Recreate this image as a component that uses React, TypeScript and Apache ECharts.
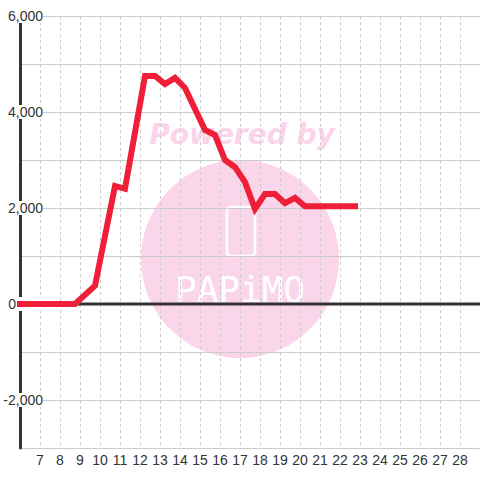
import React, { useEffect, useRef } from 'react';
import * as echarts from 'echarts';

// Data
const xValues = [6, 8.75, 9.75, 10.75, 11.25, 12.25, 12.75, 13.25, 13.75, 14.25, 15.25, 15.75, 16.25, 16.75, 17.25, 17.75, 18.25, 18.75, 19.25, 19.75, 20.25, 22.75];
const yValues = [0, 0, 380, 2460, 2400, 4750, 4750, 4580, 4710, 4500, 3625, 3520, 3000, 2850, 2540, 1980, 2290, 2290, 2100, 2210, 2035, 2035];
const xMin = 6;
const xMax = 29;
const xLabelFirst = 7;
const xLabelLast = 28;
const yMin = -3000;
const yMax = 6000;
const yLabelStep = 2000;

export default function App() {
  const ref = useRef<HTMLDivElement>(null);
  useEffect(() => {
    if (!ref.current) return;
    const chart = echarts.init(ref.current, null, { renderer: 'svg' });
    const font = '"Liberation Sans", Arial, sans-serif';
    chart.setOption({
      animation: false,
      backgroundColor: '#ffffff',
      textStyle: { fontFamily: font },
      grid: { left: 20, right: 0, top: 16, bottom: 32, containLabel: false, outerBoundsMode: 'none' },
      xAxis: {
        type: 'value',
        min: xMin,
        max: xMax,
        interval: 1,
        axisLine: { show: false, onZero: false },
        axisTick: { show: false },
        axisLabel: {
          color: '#333',
          fontSize: 14,
          margin: 5,
          fontFamily: font,
          formatter: (v: number) => (v >= xLabelFirst && v <= xLabelLast ? String(v) : ''),
        },
        splitLine: { show: true, lineStyle: { color: '#cccccc', width: 1, type: [3, 3] } },
      },
      yAxis: {
        type: 'value',
        min: yMin,
        max: yMax,
        interval: 1000,
        axisLine: { show: true, lineStyle: { color: '#333', width: 3 } },
        axisTick: { show: false },
        axisLabel: {
          color: '#333',
          fontSize: 14,
          lineHeight: 14,
          fontFamily: font,
          margin: -23,
          backgroundColor: '#ffffff',
          formatter: (v: number) => {
            if (v % yLabelStep !== 0) return '';
            if (v === 0) return '{z|0}';
            return v.toLocaleString('en-US');
          },
          rich: { z: { padding: [0, 27, 0, 0], fontSize: 14, color: '#333', fontFamily: font } },
        },
        splitLine: { show: true, lineStyle: { color: '#cccccc', width: 1 } },
      },
      graphic: [
        { type: 'circle', z: -10, silent: true, shape: { cx: 240, cy: 259, r: 99 }, style: { fill: '#fbd6eb' } },
        {
          type: 'text', z: -10, silent: true, x: 242, y: 134,
          style: { text: 'Powered by', fill: '#fbd3ea', font: 'italic bold 28px "DejaVu Sans", sans-serif', align: 'center', verticalAlign: 'middle' },
        },
        {
          type: 'rect', z: -9, silent: true, shape: { x: 227, y: 207, width: 28, height: 49, r: 4 },
          style: { fill: 'none', stroke: '#ffffff', lineWidth: 2.5 },
        },
        {
          type: 'text', z: -9, silent: true, x: 240, y: 289,
          style: { text: 'PAPiMO', fill: '#ffffff', font: '36px "DejaVu Sans Mono", monospace', align: 'center', verticalAlign: 'middle' },
        },
      ],
      series: [
        {
          type: 'line',
          z: 1,
          silent: true,
          showSymbol: false,
          data: [[xMin, 0], [xMax, 0]],
          lineStyle: { color: '#333', width: 3 },
        },
        {
          type: 'line',
          z: 3,
          showSymbol: false,
          clip: false,
          data: xValues.map((x, i) => [x, yValues[i]]),
          lineStyle: { color: '#ee1f36', width: 6, cap: 'square', join: 'miter' },
        },
      ],
    });
    return () => chart.dispose();
  }, []);
  return <div ref={ref} style={{ position: 'fixed', left: 0, top: 0, width: 480, height: 480 }} />;
}
